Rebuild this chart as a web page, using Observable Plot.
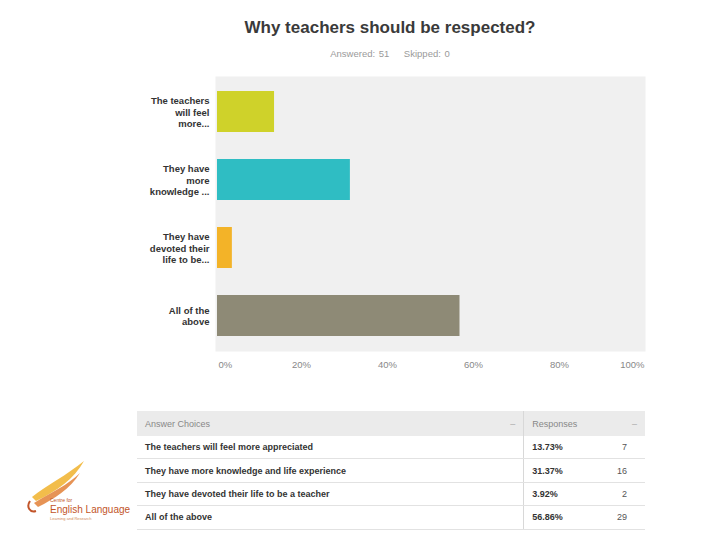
<!DOCTYPE html>
<html>
<head>
<meta charset="utf-8">
<script src="https://cdn.jsdelivr.net/npm/d3@7"></script>
<script src="https://cdn.jsdelivr.net/npm/@observablehq/plot@0.6"></script>
<style>
  html, body { margin: 0; padding: 0; background: #fff; }
  body { width: 720px; height: 540px; position: relative; overflow: hidden; font-family: "Liberation Sans", Arial, sans-serif; }
  #title { position: absolute; top: 18px; left: 60px; width: 660px; text-align: center; font-size: 17px; font-weight: bold; color: #3a3a3a; }
  #subtitle { position: absolute; top: 48px; left: 60px; width: 660px; text-align: center; font-size: 9.5px; color: #9a9a9a; word-spacing: 1px; }
  #chart { position: absolute; top: 70px; left: 0; }
  #tbl { position: absolute; top: 411px; left: 137px; width: 508px; border-collapse: collapse; font-size: 9px; }
  #tbl th { background: #ebebeb; color: #888; font-weight: normal; text-align: left; height: 25px; padding: 0 8px; }
  #tbl td { height: 22.4px; padding: 0 8px; border-bottom: 1px solid #e2e2e2; color: #333; font-weight: bold; }
  #tbl .sep { border-left: 1px solid #d8d8d8; }
  #tbl .cnt { text-align: right; font-weight: normal; color: #555; padding-right: 18px; }
  #tbl .dd { color: #aaa; text-align: right; }
  #logo { position: absolute; left: 22px; top: 455px; }
</style>
</head>
<body>
<div id="title"></div>
<div id="subtitle"></div>
<div id="chart"></div>
<table id="tbl"></table>
<div id="logo">
  <svg width="110" height="75" viewBox="0 0 110 75">
    <path d="M10 42 C 25 30, 45 20, 62 6 C 52 24, 35 36, 14 46 Z" fill="#f0b22c" opacity="0.85"/>
    <path d="M12 48 C 28 38, 46 30, 58 18 C 48 34, 32 44, 16 52 Z" fill="#e0782a" opacity="0.8"/>
    <path d="M8 46 C 4 52, 8 58, 14 56" stroke="#c2552a" stroke-width="2" fill="none"/>
    <text x="28" y="47" font-size="5" fill="#c2552a" font-family="Liberation Sans">Centre for</text>
    <text x="28" y="58" font-size="10" fill="#c2552a" font-family="Liberation Sans">English Language</text>
    <text x="28" y="65" font-size="4" fill="#d08a5a" font-family="Liberation Sans">Learning and Research</text>
  </svg>
</div>
<script>
// ---- data ----
const title = "Why teachers should be respected?";
const answered = 51;
const skipped = 0;
const shortLabels = [
  "The teachers\nwill feel\nmore...",
  "They have\nmore\nknowledge ...",
  "They have\ndevoted their\nlife to be...",
  "All of the\nabove"
];
const fullLabels = [
  "The teachers will feel more appreciated",
  "They have more knowledge and life experience",
  "They have devoted their life to be a teacher",
  "All of the above"
];
const percents = [13.73, 31.37, 3.92, 56.86];
const counts = [7, 16, 2, 29];
const barColors = ["#cfd22a", "#2fbdc3", "#f3b328", "#8e8a76"];
const xTicks = [0, 20, 40, 60, 80, 100];

// ---- header ----
document.getElementById("title").textContent = title;
document.getElementById("subtitle").innerHTML =
  "Answered: " + answered + "&nbsp;&nbsp;&nbsp;&nbsp;Skipped: " + skipped;

// ---- chart ----
const rows = shortLabels.map((s, i) => ({key: s, pct: percents[i], color: barColors[i]}));

const chart = Plot.plot({
  width: 720,
  height: 310,
  marginLeft: 215,
  marginRight: 75,
  marginTop: 6,
  marginBottom: 29,
  style: {fontFamily: "Liberation Sans, Arial, sans-serif", background: "transparent"},
  x: {domain: [0, 100], axis: null},
  y: {domain: shortLabels, paddingInner: 0.39, paddingOuter: 0.195, axis: null},
  marks: [
    Plot.frame({fill: "#f0f0f0", stroke: null}),
    Plot.barX(rows, {x: "pct", y: "key", fill: "color", insetLeft: 2}),
    Plot.text(rows, {
      x: 0, y: "key", text: "key", textAnchor: "end", dx: -6,
      fontSize: 9.5, fontWeight: "bold", fill: "#333", lineHeight: 1.2
    }),
    Plot.text(xTicks.filter(t => t === 0), {
      x: d => d, frameAnchor: "bottom", dy: 16, text: d => d + "%",
      textAnchor: "start", dx: 3, fontSize: 9.5, fill: "#888"
    }),
    Plot.text(xTicks.filter(t => t > 0 && t < 100), {
      x: d => d, frameAnchor: "bottom", dy: 16, text: d => d + "%",
      textAnchor: "middle", fontSize: 9.5, fill: "#888"
    }),
    Plot.text(xTicks.filter(t => t === 100), {
      x: d => d, frameAnchor: "bottom", dy: 16, text: d => d + "%",
      textAnchor: "end", dx: -1, fontSize: 9.5, fill: "#888"
    })
  ]
});
document.getElementById("chart").appendChild(chart);

// ---- table ----
const tbl = document.getElementById("tbl");
let html = '<tr><th style="width:360px">Answer Choices</th><th class="dd" style="width:12px">&ndash;</th>' +
  '<th class="sep" style="width:70px">Responses</th><th class="dd">&ndash;</th></tr>';
fullLabels.forEach((lab, i) => {
  html += '<tr><td colspan="2">' + lab + '</td><td class="sep">' +
    percents[i].toFixed(2) + '%</td><td class="cnt">' + counts[i] + '</td></tr>';
});
tbl.innerHTML = html;
</script>
</body>
</html>
